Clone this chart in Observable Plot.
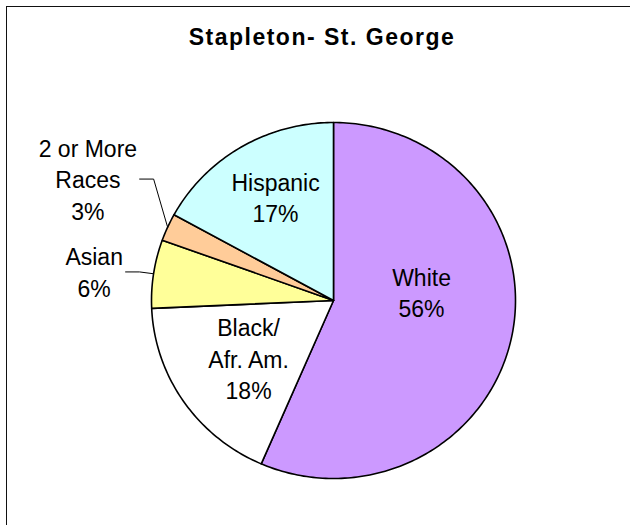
<!DOCTYPE html>
<html><head><meta charset="utf-8">
<script src="https://cdn.jsdelivr.net/npm/d3@7"></script>
<script src="https://cdn.jsdelivr.net/npm/@observablehq/plot@0.6"></script>
<style>
body{margin:0;background:#fff;}
#wrap{position:relative;width:630px;height:525px;overflow:hidden;background:#fff;}
#frame{position:absolute;left:6px;top:6px;width:700px;height:600px;border-left:1.5px solid #111;border-top:1.5px solid #111;}
#title{position:absolute;left:0;width:644px;top:26px;text-align:center;font:bold 23px "Liberation Sans",Arial,sans-serif;letter-spacing:1.5px;line-height:23px;color:#000;}
#chart{position:absolute;left:0;top:0;}
</style></head><body>
<div id="wrap"><div id="frame"></div><div id="chart"></div><div id="title">Stapleton- St. George</div></div>
<script>
// ---- data ----
const categories = ["White", "Black/\nAfr. Am.", "Asian", "2 or More\nRaces", "Hispanic"];
const values = [56.5, 17.8, 6.2, 2.5, 17.0];
const percentLabels = ["56%", "18%", "6%", "3%", "17%"];

// ---- styles / layout ----
const colors = ["#CC99FF", "#FFFFFF", "#FFFF99", "#FFCC99", "#CCFFFF"];
const labelRadius = [0.55, 0.55, 1.33, 1.33, 0.55];
const labelNudge = [[-10, -29], [-2.5, 1.5], [0, 6], [-25, -25], [-7, -20]]; // px
const xRange = [151, 515], yRange = [478, 122];
const ux = (xRange[1] - xRange[0]) / 2, uy = (yRange[0] - yRange[1]) / 2;

const arcs = d3.pie().sort(null).value(d => d)(values);

const slicePts = [];
arcs.forEach((a, i) => {
  const name = categories[i];
  slicePts.push({name, x: 0, y: 0});
  const n = Math.max(2, Math.ceil((a.endAngle - a.startAngle) / (Math.PI / 180)));
  for (let k = 0; k <= n; k++) {
    const t = a.startAngle + (a.endAngle - a.startAngle) * k / n;
    slicePts.push({name, x: Math.sin(t), y: Math.cos(t)});
  }
  slicePts.push({name, x: 0, y: 0});
});

const labels = arcs.map((a, i) => {
  const m = (a.startAngle + a.endAngle) / 2;
  const r = labelRadius[i];
  return {
    text: categories[i] + "\n" + percentLabels[i],
    x: r * Math.sin(m) + labelNudge[i][0] / ux,
    y: r * Math.cos(m) - labelNudge[i][1] / uy,
    mid: m, outside: r > 1, i
  };
});

const leaders = [];
labels.filter(d => d.outside).forEach(d => {
  const px = Math.sin(d.mid), py = Math.cos(d.mid);
  const ly = d.y - 1 / uy;
  leaders.push({k: d.i, x: px - 28 / ux, y: ly});
  leaders.push({k: d.i, x: px - 14 / ux, y: ly});
  leaders.push({k: d.i, x: px, y: py});
});

const chart = Plot.plot({
  width: 630, height: 525,
  marginTop: 0, marginRight: 0, marginBottom: 0, marginLeft: 0,
  x: {domain: [-1, 1], range: xRange, axis: null},
  y: {domain: [-1, 1], range: yRange, axis: null},
  color: {domain: categories, range: colors},
  style: {background: "transparent", overflow: "visible"},
  marks: [
    Plot.line(slicePts, {x: "x", y: "y", z: "name", fill: "name", stroke: "#000", strokeWidth: 1.6, strokeLinejoin: "round"}),
    Plot.line(leaders, {x: "x", y: "y", z: "k", stroke: "#000", strokeWidth: 1}),
    Plot.text(labels, {x: "x", y: "y", text: "text", fontSize: 23, lineHeight: 1.37,
      fontFamily: "'Liberation Sans', Arial, sans-serif", fill: "#000"})
  ]
});
document.getElementById("chart").appendChild(chart);
</script>
</body></html>
